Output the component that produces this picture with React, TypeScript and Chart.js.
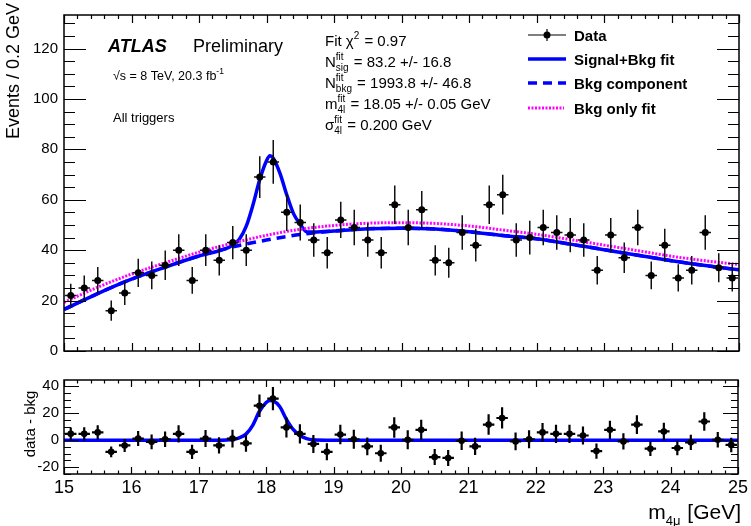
import React, { useEffect, useRef } from 'react';
import { Chart, registerables } from 'chart.js';

Chart.register(...registerables);

const FONT = '"Liberation Sans", Arial, Helvetica, sans-serif';
const BLUE = '#0000ff';
const MAGENTA = '#ff00ff';

// Bin centres of the 0.2 GeV bins (GeV)
const binCenters = [
  15.1, 15.3, 15.5, 15.7, 15.9, 16.1, 16.3, 16.5, 16.7, 16.9,
  17.1, 17.3, 17.5, 17.7, 17.9, 18.1, 18.3, 18.5, 18.7, 18.9,
  19.1, 19.3, 19.5, 19.7, 19.9, 20.1, 20.3, 20.5, 20.7, 20.9,
  21.1, 21.3, 21.5, 21.7, 21.9, 22.1, 22.3, 22.5, 22.7, 22.9,
  23.1, 23.3, 23.5, 23.7, 23.9, 24.1, 24.3, 24.5, 24.7, 24.9,
];

// Events per bin (upper panel)
const eventCounts = [
  22, 25, 28, 16, 23, 31, 30, 34, 40, 28,
  40, 36, 43, 40, 69, 75, 55, 51, 44, 39,
  52, 49, 44, 39, 58, 49, 56, 36, 35, 47,
  42, 58, 62, 44, 45, 49, 47, 46, 44, 32,
  46, 37, 49, 30, 42, 29, 32, 47, 33, 29,
];

// data - bkg per bin (lower panel)
const dataMinusBkg = [
  4.7, 4.7, 5.8, -8.6, -3.9, 1.2, -1.2, 0.7, 4.7, -8.6,
  1.2, -3.9, 1.2, -2.3, 25.6, 30.9, 9.5, 4.7, -2.8, -8.6,
  4.2, 0.7, -4.6, -9.7, 9.5, 0.3, 7.7, -12.5, -13.2, -0.4,
  -4.6, 11.6, 16.5, -0.9, 0.7, 5.8, 4.7, 4.7, 3.5, -8.1,
  7.7, -0.9, 11.6, -6.3, 6.5, -5.8, -1.6, 13.9, 0.3, -3.5,
];

// Signal+Bkg fit curve
const sigBkgMass = [15, 15.5, 16, 16.5, 17, 17.4, 17.5, 17.6, 17.7, 17.8, 17.9, 18.0, 18.05, 18.1, 18.2, 18.3, 18.4, 18.5, 18.6, 19, 19.5, 20, 20.5, 21, 21.5, 22, 22.5, 23, 23.5, 24, 24.5, 25];
const sigBkgFit = [16.5, 22.8, 28.5, 33.3, 37.7, 40.6, 42.0, 44.4, 49.5, 58.0, 68.0, 75.5, 77.5, 76.5, 70.5, 62.0, 54.5, 50.3, 47.2, 47.6, 48.5, 48.7, 48.4, 47.3, 45.8, 44.5, 42.4, 40.2, 38.0, 35.8, 33.9, 32.2];

// Bkg component of the S+B fit, and background-only fit
const bkgMass = [15, 15.5, 16, 16.5, 17, 17.5, 18, 18.5, 19, 19.5, 20, 20.5, 21, 21.5, 22, 22.5, 23, 23.5, 24, 24.5, 25];
const bkgComponent = [16.5, 22.8, 28.5, 33.3, 37.7, 41.3, 44.0, 46.2, 47.6, 48.5, 48.7, 48.4, 47.3, 45.8, 44.5, 42.4, 40.2, 38.0, 35.8, 33.9, 32.2];
const bkgOnlyFit = [19.3, 25.3, 30.5, 35.0, 39.2, 42.8, 45.9, 48.3, 49.8, 50.7, 50.9, 50.6, 49.6, 48.0, 46.3, 44.2, 42.0, 39.8, 37.6, 35.8, 34.3];

// Signal part of the fit (lower panel)
const residMass = [15, 17.3, 17.5, 17.6, 17.7, 17.8, 17.9, 18.0, 18.05, 18.1, 18.2, 18.3, 18.4, 18.5, 18.6, 18.7, 18.9, 25];
const residFit = [0, 0, 0.5, 1.8, 4.5, 11.0, 21.5, 28.0, 29.5, 29.2, 25.0, 15.5, 8.0, 3.5, 1.2, 0.3, 0, 0];

// Tick labels
const xTickLabels = [15, 16, 17, 18, 19, 20, 21, 22, 23, 24, 25];
const yTicksTop = [0, 20, 40, 60, 80, 100, 120];
const yTicksBottom = [-20, 0, 20, 40];

const countErrors = eventCounts.map((n) => Math.sqrt(n));

const errorBarPlugin = {
  id: 'errorBars',
  beforeDatasetDraw(chart: any, args: any, opts: any) {
    if (args.index !== 0) return;
    const { ctx, scales, chartArea } = chart;
    const xs = scales.x;
    const ys = scales.y;
    const ds = chart.data.datasets[0];
    ctx.save();
    ctx.beginPath();
    ctx.rect(chartArea.left, chartArea.top, chartArea.width, chartArea.height);
    ctx.clip();
    ctx.strokeStyle = opts.color || '#000';
    ctx.lineWidth = opts.lineWidth || 1.5;
    ctx.beginPath();
    ds.data.forEach((p: any, i: number) => {
      const e = opts.errors[i];
      const px = xs.getPixelForValue(p.x);
      const py = ys.getPixelForValue(p.y);
      ctx.moveTo(px, ys.getPixelForValue(p.y - e));
      ctx.lineTo(px, ys.getPixelForValue(p.y + e));
      ctx.moveTo(xs.getPixelForValue(p.x - opts.halfWidth), py);
      ctx.lineTo(xs.getPixelForValue(p.x + opts.halfWidth), py);
    });
    ctx.stroke();
    ctx.restore();
  },
};

const frameTicksPlugin = {
  id: 'frameTicks',
  afterDatasetsDraw(chart: any, _args: any, o: any) {
    const { ctx, chartArea: a, scales } = chart;
    const xs = scales.x;
    const ys = scales.y;
    ctx.save();
    ctx.strokeStyle = '#000';
    ctx.lineWidth = 1.2;
    ctx.beginPath();
    const n = Math.round((xs.max - xs.min) / o.xMinor);
    const ratio = Math.round(o.xMajor / o.xMinor);
    for (let k = 0; k <= n; k++) {
      const v = xs.min + k * o.xMinor;
      const px = Math.round(xs.getPixelForValue(v)) + 0.5;
      const len = k % ratio === 0 ? o.xMajorLen : o.xMinorLen;
      ctx.moveTo(px, a.bottom);
      ctx.lineTo(px, a.bottom - len);
      ctx.moveTo(px, a.top);
      ctx.lineTo(px, a.top + len);
    }
    const start = Math.ceil(ys.min / o.yMinor - 1e-9) * o.yMinor;
    for (let v = start; v <= ys.max + 1e-9; v += o.yMinor) {
      const py = Math.round(ys.getPixelForValue(v)) + 0.5;
      const q = v / o.yMajor;
      const len = Math.abs(q - Math.round(q)) < 1e-6 ? o.yMajorLen : o.yMinorLen;
      ctx.moveTo(a.left, py);
      ctx.lineTo(a.left + len, py);
      ctx.moveTo(a.right, py);
      ctx.lineTo(a.right - len, py);
    }
    ctx.stroke();
    ctx.lineWidth = 1.5;
    ctx.strokeRect(a.left, a.top, a.right - a.left, a.bottom - a.top);
    ctx.restore();
  },
};

type Seg = { t?: string; sup?: string; sub?: string };

function drawRich(ctx: CanvasRenderingContext2D, x: number, y: number, size: number, small: number, segs: Seg[], weight = '') {
  let cx = x;
  for (const s of segs) {
    if (s.t !== undefined) {
      ctx.font = `${weight}${size}px ${FONT}`;
      ctx.fillText(s.t, cx, y);
      cx += ctx.measureText(s.t).width;
    } else {
      ctx.font = `${weight}${small}px ${FONT}`;
      let w = 0;
      if (s.sup) {
        ctx.fillText(s.sup, cx, y - size * 0.42);
        w = Math.max(w, ctx.measureText(s.sup).width);
      }
      if (s.sub) {
        ctx.fillText(s.sub, cx, y + size * 0.28);
        w = Math.max(w, ctx.measureText(s.sub).width);
      }
      cx += w + 1;
    }
  }
  return cx;
}

function richWidth(ctx: CanvasRenderingContext2D, size: number, small: number, segs: Seg[]) {
  let w = 0;
  for (const s of segs) {
    if (s.t !== undefined) {
      ctx.font = `${size}px ${FONT}`;
      w += ctx.measureText(s.t).width;
    } else {
      ctx.font = `${small}px ${FONT}`;
      w += Math.max(s.sup ? ctx.measureText(s.sup).width : 0, s.sub ? ctx.measureText(s.sub).width : 0) + 1;
    }
  }
  return w;
}

const topTextPlugin = {
  id: 'topText',
  afterDraw(chart: any) {
    const ctx: CanvasRenderingContext2D = chart.ctx;
    ctx.save();
    ctx.fillStyle = '#000';
    ctx.textAlign = 'left';
    ctx.textBaseline = 'alphabetic';

    // y axis title
    ctx.save();
    ctx.translate(19, 3);
    ctx.rotate(-Math.PI / 2);
    ctx.textAlign = 'right';
    ctx.font = `18px ${FONT}`;
    ctx.fillText('Events / 0.2 GeV', 0, 0);
    ctx.restore();

    // ATLAS label
    ctx.font = `italic bold 18px ${FONT}`;
    ctx.fillText('ATLAS', 108, 52);
    ctx.font = `18px ${FONT}`;
    ctx.fillText('Preliminary', 193, 52);
    drawRich(ctx, 113, 79.5, 12.5, 8.5, [{ t: '\u221As = 8 TeV, 20.3 fb' }, { sup: '-1' }]);
    ctx.font = `13px ${FONT}`;
    ctx.fillText('All triggers', 113, 122);

    // Fit results
    const fx = 325;
    drawRich(ctx, fx, 45.5, 15, 10, [{ t: 'Fit \u03C7' }, { sup: '2' }, { t: ' = 0.97' }]);
    drawRich(ctx, fx, 66.5, 15, 10, [{ t: 'N' }, { sup: 'fit', sub: 'sig' }, { t: ' = 83.2 +/- 16.8' }]);
    drawRich(ctx, fx, 87.5, 15, 10, [{ t: 'N' }, { sup: 'fit', sub: 'bkg' }, { t: ' = 1993.8 +/- 46.8' }]);
    drawRich(ctx, fx, 108.5, 15, 10, [{ t: 'm' }, { sup: 'fit', sub: '4l' }, { t: ' = 18.05 +/- 0.05 GeV' }]);
    drawRich(ctx, fx, 129.5, 15, 10, [{ t: '\u03C3' }, { sup: 'fit', sub: '4l' }, { t: ' = 0.200 GeV' }]);

    // Legend
    const lx0 = 528;
    const lx1 = 566;
    const tx = 574;
    const rows = [35, 59, 83, 108];
    // Data
    ctx.strokeStyle = '#000';
    ctx.lineWidth = 1.2;
    ctx.beginPath();
    ctx.moveTo(lx0, rows[0]);
    ctx.lineTo(lx1, rows[0]);
    ctx.moveTo(547, rows[0] - 6);
    ctx.lineTo(547, rows[0] + 6);
    ctx.stroke();
    ctx.beginPath();
    ctx.arc(547, rows[0], 3.5, 0, Math.PI * 2);
    ctx.fill();
    // Signal+Bkg
    ctx.lineWidth = 3.5;
    ctx.strokeStyle = BLUE;
    ctx.beginPath();
    ctx.moveTo(lx0, rows[1]);
    ctx.lineTo(lx1, rows[1]);
    ctx.stroke();
    // Bkg component
    ctx.setLineDash([9, 6]);
    ctx.beginPath();
    ctx.moveTo(lx0, rows[2]);
    ctx.lineTo(lx1, rows[2]);
    ctx.stroke();
    // Bkg only
    ctx.setLineDash([2, 1.5]);
    ctx.lineWidth = 3;
    ctx.strokeStyle = MAGENTA;
    ctx.beginPath();
    ctx.moveTo(lx0, rows[3]);
    ctx.lineTo(lx1 - 2, rows[3]);
    ctx.stroke();
    ctx.setLineDash([]);

    ctx.fillStyle = '#000';
    ctx.font = `bold 15px ${FONT}`;
    const names = ['Data', 'Signal+Bkg fit', 'Bkg component', 'Bkg only fit'];
    names.forEach((nm, i) => ctx.fillText(nm, tx, rows[i] + 5.5));
    ctx.restore();
  },
};

const bottomTextPlugin = {
  id: 'bottomText',
  afterDraw(chart: any) {
    const ctx: CanvasRenderingContext2D = chart.ctx;
    ctx.save();
    ctx.fillStyle = '#000';
    // y title
    ctx.save();
    ctx.translate(35, 58);
    ctx.rotate(-Math.PI / 2);
    ctx.textAlign = 'center';
    ctx.textBaseline = 'alphabetic';
    ctx.font = `15px ${FONT}`;
    ctx.fillText('data - bkg', 0, 0);
    ctx.restore();
    // x title
    ctx.textAlign = 'left';
    ctx.textBaseline = 'alphabetic';
    const segs: Seg[] = [{ t: 'm' }, { sub: '4\u03BC' }, { t: ' [GeV]' }];
    const w = richWidth(ctx, 21, 13, segs);
    drawRich(ctx, 741 - w, 153, 21, 13, segs);
    ctx.restore();
  },
};

export default function App() {
  const topRef = useRef<HTMLCanvasElement>(null);
  const botRef = useRef<HTMLCanvasElement>(null);

  useEffect(() => {
    const tickFont = { family: FONT, size: 15 };
    const topChart = new Chart(topRef.current as HTMLCanvasElement, {
      type: 'scatter',
      data: {
        datasets: [
          {
            label: 'Data',
            data: binCenters.map((x, i) => ({ x, y: eventCounts[i] })),
            pointRadius: 3.5,
            pointBackgroundColor: '#000',
            pointBorderWidth: 0,
            showLine: false,
          },
          {
            label: 'Bkg only fit',
            data: bkgMass.map((x, i) => ({ x, y: bkgOnlyFit[i] })),
            showLine: true,
            borderColor: MAGENTA,
            borderWidth: 3,
            borderDash: [2, 1.5],
            pointRadius: 0,
            cubicInterpolationMode: 'monotone',
          },
          {
            label: 'Signal+Bkg fit',
            data: sigBkgMass.map((x, i) => ({ x, y: sigBkgFit[i] })),
            showLine: true,
            borderColor: BLUE,
            borderWidth: 3.5,
            pointRadius: 0,
            cubicInterpolationMode: 'monotone',
          },
          {
            label: 'Bkg component',
            data: bkgMass.map((x, i) => ({ x, y: bkgComponent[i] })),
            showLine: true,
            borderColor: BLUE,
            borderWidth: 3.5,
            borderDash: [9, 6],
            pointRadius: 0,
            cubicInterpolationMode: 'monotone',
          },
        ],
      } as any,
      options: {
        animation: false,
        responsive: false,
        layout: { padding: { top: 10, right: 12, bottom: 9, left: 0 } },
        plugins: {
          legend: { display: false },
          tooltip: { enabled: false },
          errorBars: { errors: countErrors, halfWidth: 0.085, lineWidth: 1.5, color: '#111' },
          frameTicks: { xMinor: 0.2, xMajor: 1, xMajorLen: 8, xMinorLen: 4, yMinor: 5, yMajor: 20, yMajorLen: 22, yMinorLen: 11 },
        } as any,
        scales: {
          x: { type: 'linear', min: 15, max: 25, display: false },
          y: {
            type: 'linear',
            min: 0,
            max: 133.3,
            afterFit: (s: any) => { s.width = 64; },
            afterBuildTicks: (s: any) => { s.ticks = yTicksTop.map((v) => ({ value: v })); },
            grid: { display: false, drawTicks: false },
            border: { display: false },
            ticks: { font: tickFont, color: '#000', padding: 6 },
          },
        },
      } as any,
      plugins: [errorBarPlugin, frameTicksPlugin, topTextPlugin],
    });

    const botChart = new Chart(botRef.current as HTMLCanvasElement, {
      type: 'scatter',
      data: {
        datasets: [
          {
            label: 'data - bkg',
            data: binCenters.map((x, i) => ({ x, y: dataMinusBkg[i] })),
            pointRadius: 3.3,
            pointBackgroundColor: '#000',
            pointBorderWidth: 0,
            showLine: false,
          },
          {
            label: 'Signal fit',
            data: residMass.map((x, i) => ({ x, y: residFit[i] })),
            showLine: true,
            borderColor: BLUE,
            borderWidth: 3.5,
            pointRadius: 0,
            cubicInterpolationMode: 'monotone',
          },
        ],
      } as any,
      options: {
        animation: false,
        responsive: false,
        layout: { padding: { top: 8, right: 12, bottom: 0, left: 0 } },
        plugins: {
          legend: { display: false },
          tooltip: { enabled: false },
          errorBars: { errors: countErrors, halfWidth: 0.085, lineWidth: 2.2, color: '#000' },
          frameTicks: { xMinor: 0.2, xMajor: 1, xMajorLen: 7, xMinorLen: 3.5, yMinor: 5, yMajor: 20, yMajorLen: 15, yMinorLen: 7 },
        } as any,
        scales: {
          x: {
            type: 'linear',
            min: 15,
            max: 25,
            afterFit: (s: any) => { s.height = 52; },
            afterBuildTicks: (s: any) => { s.ticks = xTickLabels.map((v) => ({ value: v })); },
            grid: { display: false, drawTicks: false },
            border: { display: false },
            ticks: { font: { family: FONT, size: 18 }, color: '#000', padding: 3, maxRotation: 0, autoSkip: false },
          },
          y: {
            type: 'linear',
            min: -25.1,
            max: 44.7,
            afterFit: (s: any) => { s.width = 64; },
            afterBuildTicks: (s: any) => { s.ticks = yTicksBottom.map((v) => ({ value: v })); },
            grid: { display: false, drawTicks: false },
            border: { display: false },
            ticks: { font: tickFont, color: '#000', padding: 5 },
          },
        },
      } as any,
      plugins: [errorBarPlugin, frameTicksPlugin, bottomTextPlugin],
    });

    return () => {
      topChart.destroy();
      botChart.destroy();
    };
  }, []);

  return (
    <div style={{ position: 'absolute', left: 0, top: 0, width: 751, height: 526, background: '#fff' }}>
      <canvas ref={topRef} width={751} height={366} style={{ position: 'absolute', left: 0, top: 0, display: 'block' }} />
      <canvas ref={botRef} width={751} height={160} style={{ position: 'absolute', left: 0, top: 366, display: 'block' }} />
    </div>
  );
}
